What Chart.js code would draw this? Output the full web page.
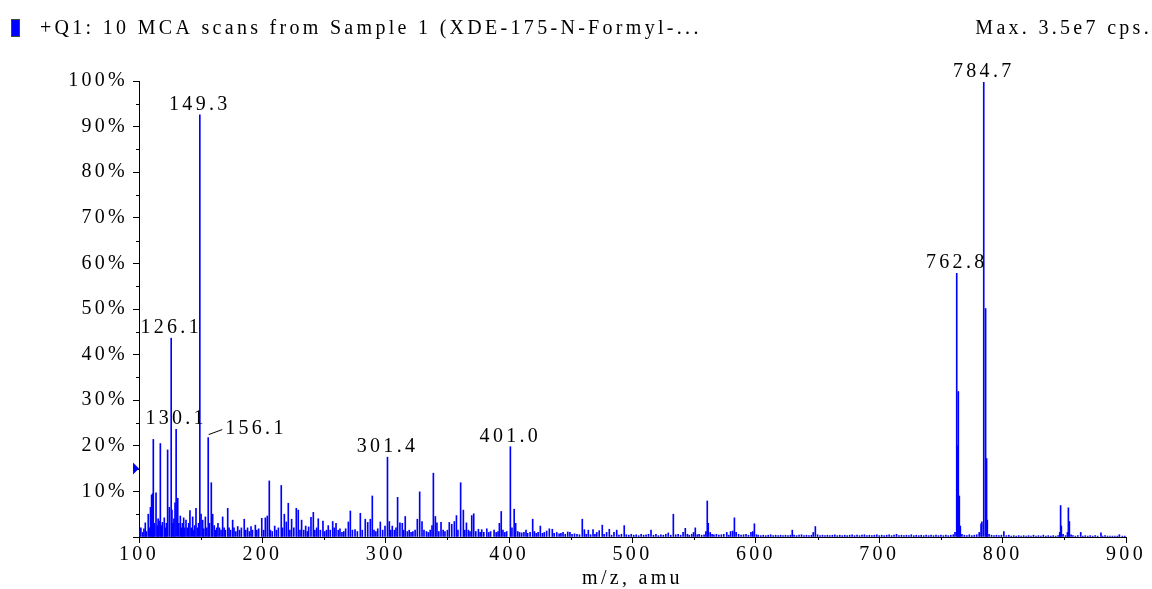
<!DOCTYPE html>
<html><head><meta charset="utf-8">
<script src="https://cdn.jsdelivr.net/npm/chart.js@4/dist/chart.umd.min.js"></script>
<style>html,body{margin:0;padding:0;background:#fff;}#wrap{width:1152px;height:589px;}</style>
</head><body><div id="wrap"><canvas id="c" width="1152" height="589"></canvas></div>
<script>
// ---- data (m/z, relative intensity %) ----
const mzValues = [
100.5,101.5,103.0,104.0,105.1,106.0,107.5,108.5,109.3,110.2,111.0,111.6,112.5,113.8,114.8,115.5,116.3,117.3,118.2,119.0,
120.5,121.3,122.2,123.2,124.6,126.1,126.7,127.5,128.3,129.2,130.1,131.4,132.3,133.5,134.5,135.2,136.2,137.0,138.1,139.2,
140.3,141.3,142.3,143.5,144.5,145.2,146.2,147.3,148.3,149.3,150.3,151.6,152.5,153.8,155.0,156.1,157.0,158.6,159.7,161.0,
162.0,163.0,164.0,165.2,166.5,167.8,169.0,170.0,171.9,173.0,174.2,175.9,177.0,178.5,180.0,181.5,183.0,185.3,186.5,188.0,
189.5,190.8,192.0,194.3,195.5,197.0,199.5,201.0,202.4,204.0,205.6,206.5,208.0,210.0,211.5,213.0,215.3,216.3,217.8,219.4,
221.0,222.3,223.7,225.5,227.5,229.1,230.5,231.8,233.5,235.1,236.5,237.5,239.4,241.3,242.5,244.0,245.3,247.0,249.1,250.5,
252.0,253.4,255.0,257.0,258.3,259.7,261.5,262.9,264.5,266.0,267.5,269.7,271.3,273.0,275.1,277.0,279.4,281.0,283.4,285.4,
287.5,289.1,290.5,292.0,293.5,295.6,297.5,299.4,301.4,302.9,304.0,305.3,307.0,308.3,309.6,311.5,313.4,314.5,315.8,317.5,
319.0,320.5,322.0,323.8,325.6,327.5,329.4,331.0,333.0,334.5,336.0,337.5,338.6,340.2,341.5,343.0,344.8,346.5,348.0,350.0,
351.5,353.5,355.6,357.3,358.5,360.7,362.9,364.0,365.4,367.0,368.3,369.7,371.3,373.0,375.1,376.5,377.8,379.5,381.9,383.5,
385.0,387.8,389.5,391.0,392.1,393.6,395.0,396.5,398.0,401.0,402.3,404.1,405.3,407.0,408.5,410.2,412.0,413.7,415.0,417.0,
419.1,420.5,422.0,423.5,425.3,427.0,428.5,430.4,432.6,435.0,436.5,438.6,440.5,442.0,443.7,445.5,447.5,449.3,451.0,453.0,
455.0,457.0,459.3,461.0,462.5,464.2,466.0,468.0,469.5,471.0,473.0,475.5,477.0,479.0,481.2,483.0,485.0,487.2,489.0,491.0,
493.3,495.0,497.0,499.0,501.0,503.0,505.0,507.0,509.0,511.0,513.0,515.0,517.0,519.0,521.0,523.0,525.0,527.0,529.0,531.0,
533.1,535.0,537.0,539.0,541.0,542.8,544.5,546.0,548.0,549.5,550.9,552.5,554.0,556.0,558.0,559.5,560.6,561.4,563.0,564.5,
566.0,568.0,570.0,572.0,574.0,576.4,578.0,579.5,581.2,582.6,584.0,586.0,588.0,590.0,592.0,594.0,596.0,597.5,598.8,600.5,
602.0,604.0,606.0,608.0,610.0,612.0,614.0,616.0,618.0,620.0,622.0,624.0,626.0,628.0,629.5,631.0,633.0,635.0,637.0,639.0,
641.0,643.0,645.0,646.5,648.2,650.0,652.0,654.0,656.0,658.0,660.0,662.0,664.0,666.0,668.0,670.0,672.0,674.0,676.0,678.0,
680.0,682.0,684.0,686.0,688.0,690.0,692.0,694.0,696.0,698.0,700.0,702.0,704.0,706.0,708.0,710.0,712.0,714.0,716.0,718.0,
720.0,722.0,724.0,726.0,728.0,730.0,732.0,734.0,736.0,738.0,740.0,742.0,744.0,746.0,748.0,750.0,752.0,754.0,756.0,758.0,
760.0,761.4,762.8,763.4,764.1,764.9,765.7,767.0,769.0,771.0,773.0,775.0,777.0,779.0,781.0,782.5,783.2,784.7,786.2,787.0,
787.6,789.0,791.0,793.0,795.0,797.0,799.0,801.0,803.0,805.0,807.0,809.0,811.0,813.0,815.0,817.0,819.0,821.0,823.0,825.0,
827.0,829.0,831.0,833.0,835.0,837.0,839.0,841.0,843.0,845.0,846.3,847.0,847.6,849.0,851.0,852.5,853.3,854.1,855.5,857.0,
859.0,861.0,863.3,865.0,867.0,869.0,871.0,873.0,875.0,877.0,879.7,881.0,883.0,885.0,887.0,889.0,891.0,893.0,894.6,897.0,
899.0
];
const intensities = [
1.5,2.0,1.0,1.8,3.1,1.2,5.0,2.0,6.5,9.2,9.5,21.4,3.0,9.7,2.5,4.0,3.5,20.5,2.5,3.2,
4.2,2.0,3.0,19.1,6.5,43.6,5.9,3.0,4.0,7.5,23.6,8.5,3.0,4.6,2.0,3.0,4.2,2.0,3.7,2.0,
3.0,5.8,2.0,4.4,1.5,2.5,6.3,2.0,3.0,92.6,5.0,3.7,1.8,4.4,2.0,21.8,3.0,11.9,5.0,2.5,
1.5,2.0,3.0,2.0,1.5,4.4,2.0,1.5,6.3,2.0,1.5,3.7,2.0,1.2,2.3,1.5,2.0,3.9,1.5,2.0,
1.2,2.3,1.5,2.6,1.5,1.8,4.1,1.5,4.2,4.6,12.3,1.5,1.2,2.4,1.5,2.0,11.3,2.0,5.0,3.3,
7.4,1.5,3.9,2.0,6.3,5.9,1.5,3.7,1.5,2.4,1.2,2.2,4.3,5.4,1.5,2.0,4.0,1.5,3.5,1.2,
1.5,2.5,1.5,3.4,2.0,3.0,1.5,1.8,1.0,1.2,1.8,3.3,5.7,1.5,1.6,1.2,5.2,1.5,3.9,3.2,
3.9,9.0,1.5,1.2,1.8,3.3,1.5,2.4,17.5,3.4,1.5,2.4,1.5,2.0,8.7,3.1,3.0,1.5,4.5,1.2,
1.5,1.0,1.2,1.5,3.9,9.9,3.4,1.5,1.2,1.0,1.5,2.5,14.0,4.5,3.1,1.2,3.2,1.5,1.2,1.5,
3.2,2.8,3.4,4.7,1.5,11.9,5.9,1.5,3.1,1.5,1.2,4.7,5.1,1.2,1.7,1.0,1.6,1.0,1.8,1.0,
1.2,1.5,1.0,1.2,3.0,5.6,1.5,1.0,1.2,19.8,2.0,6.1,3.0,1.2,1.0,0.9,1.0,1.5,0.8,1.0,
3.9,1.2,0.8,1.0,2.4,0.8,1.0,1.3,1.8,1.7,0.8,1.0,0.7,0.8,1.0,0.6,1.1,1.0,0.6,0.7,
0.6,0.5,3.9,1.6,0.6,1.5,0.5,1.6,0.6,1.0,1.4,2.6,0.6,1.0,1.7,0.4,1.0,1.5,0.4,0.6,
2.5,0.5,0.4,0.6,0.4,0.5,0.3,0.6,0.4,0.5,0.6,1.5,0.4,0.6,0.3,0.5,0.4,0.6,0.9,0.4,
5.0,0.5,0.6,0.4,1.0,1.9,0.6,0.4,0.6,1.0,2.0,0.5,0.6,0.4,0.5,1.2,7.9,3.0,1.0,0.6,
0.5,0.6,0.4,0.5,0.6,1.0,0.4,1.2,1.3,4.2,1.0,0.6,0.4,0.5,0.6,0.4,1.0,1.2,2.9,0.5,
0.4,0.3,0.4,0.3,0.4,0.5,0.3,0.4,0.3,0.4,0.3,0.4,0.3,0.4,1.5,0.4,0.3,0.4,0.5,0.3,
0.4,0.3,0.4,1.0,2.3,0.5,0.3,0.4,0.3,0.4,0.3,0.4,0.5,0.3,0.4,0.3,0.4,0.3,0.4,0.5,
0.3,0.4,0.3,0.4,0.5,0.3,0.4,0.3,0.4,0.5,0.3,0.4,0.3,0.4,0.5,0.3,0.4,0.6,0.3,0.4,
0.3,0.4,0.3,0.5,0.3,0.4,0.3,0.4,0.3,0.4,0.3,0.4,0.3,0.4,0.3,0.4,0.3,0.4,0.3,0.4,
0.5,1.0,57.8,20.0,31.9,9.0,2.4,0.6,0.4,0.3,0.5,0.3,0.4,0.5,1.0,2.9,3.3,99.7,50.1,17.2,
3.7,0.6,0.4,0.3,0.4,0.3,0.4,1.2,0.3,0.4,0.2,0.3,0.2,0.3,0.2,0.3,0.2,0.3,0.2,0.4,
0.2,0.3,0.2,0.4,0.2,0.3,0.2,0.3,0.2,0.3,1.0,6.9,2.4,0.6,0.3,1.0,6.4,3.4,0.5,0.3,
0.2,0.3,1.0,0.2,0.3,0.2,0.3,0.2,0.3,0.2,0.9,0.2,0.3,0.2,0.2,0.2,0.2,0.2,0.5,0.2,
0.2
];
const xTicks = [100,200,300,400,500,600,700,800,900];
const xMinorTicks = [150,250,350,450,550,650,750,850];
const yTicks = [0,10,20,30,40,50,60,70,80,90,100];
const yMinorTicks = [5,15,25,35,45,55,65,75,85,95];
const peakLabelText = ['126.1','130.1','149.3','156.1','301.4','401.0','762.8','784.7'];
const peakLabelMz = [126.1,130.1,149.3,156.1,301.4,401.0,762.8,784.7];
const peakLabelIntensity = [43.6,23.6,92.6,21.8,17.5,19.8,57.8,99.7];
const leaderLabel = '156.1';
const titleText = '+Q1: 10 MCA scans from Sample 1 (XDE-175-N-Formyl-...';
const maxText = 'Max. 3.5e7 cps.';
const xAxisTitle = 'm/z, amu';
const thresholdValue = 15;

// ---- styles ----
const FONT_FAMILY = '"Liberation Serif", "Times New Roman", serif';
const FONT_SIZE = 20;
const LS = '3.3px';
const BLUE = '#0000ff';

const decor = {
  id: 'decor',
  beforeInit(chart){ chart.ctx.letterSpacing = LS; },
  beforeDraw(chart){ chart.ctx.letterSpacing = LS; },
  afterDraw(chart){
    const ctx = chart.ctx, xs = chart.scales.x, ys = chart.scales.y;
    ctx.save();
    ctx.letterSpacing = LS;
    // minor ticks
    ctx.strokeStyle = '#000'; ctx.lineWidth = 1;
    ctx.beginPath();
    yMinorTicks.forEach(v => { const y = Math.round(ys.getPixelForValue(v)) + 0.5; ctx.moveTo(xs.left - 3, y); ctx.lineTo(xs.left, y); });
    xMinorTicks.forEach(v => { const x = Math.round(xs.getPixelForValue(v)) + 0.5; ctx.moveTo(x, ys.bottom); ctx.lineTo(x, ys.bottom + 3); });
    ctx.stroke();
    // threshold marker
    const ty = ys.getPixelForValue(thresholdValue);
    ctx.fillStyle = BLUE;
    ctx.beginPath(); ctx.moveTo(xs.left - 6, ty - 6); ctx.lineTo(xs.left, ty); ctx.lineTo(xs.left - 6, ty + 6); ctx.closePath(); ctx.fill();
    // peak labels
    ctx.fillStyle = '#000';
    ctx.font = FONT_SIZE + 'px ' + FONT_FAMILY;
    ctx.textBaseline = 'alphabetic';
    peakLabelText.forEach((t, i) => {
      const px = xs.getPixelForValue(peakLabelMz[i]);
      const py = ys.getPixelForValue(peakLabelIntensity[i]);
      if (t === leaderLabel) {
        ctx.beginPath(); ctx.moveTo(px + 0.5, py - 3); ctx.lineTo(px + 14, py - 8); ctx.stroke();
        ctx.textAlign = 'left';
        ctx.fillText(t, px + 17, py - 4);
      } else {
        ctx.textAlign = 'center';
        ctx.fillText(t, px, py - 5);
      }
    });
    // header
    ctx.fillStyle = BLUE; ctx.fillRect(11, 19, 9, 18);
    ctx.strokeStyle = '#444'; ctx.strokeRect(11.5, 19.5, 8, 17);
    ctx.fillStyle = '#000';
    ctx.textAlign = 'left';
    ctx.fillText(titleText, 40, 34);
    ctx.textAlign = 'right';
    ctx.fillText(maxText, 1152, 34);
    ctx.restore();
  }
};

new Chart(document.getElementById('c'), {
  type: 'bar',
  data: { datasets: [{
    data: mzValues.map((x, i) => ({ x: x, y: intensities[i] })),
    backgroundColor: BLUE, borderWidth: 0, barThickness: 1
  }]},
  options: {
    responsive: false, animation: false, devicePixelRatio: 1,
    layout: { padding: { top: 81, right: 26, left: 0, bottom: 0 } },
    plugins: { legend: { display: false }, tooltip: { enabled: false }, title: { display: false } },
    scales: {
      x: {
        type: 'linear', min: 100, max: 900, offset: false,
        afterBuildTicks: s => { s.ticks = xTicks.map(v => ({ value: v })); },
        grid: { offset: false, drawOnChartArea: false, drawTicks: true, tickLength: 6, color: '#000' },
        border: { color: '#000', width: 1 },
        ticks: { color: '#000', font: { family: FONT_FAMILY, size: FONT_SIZE }, padding: 0, maxRotation: 0, autoSkip: false },
        title: { display: true, text: xAxisTitle, color: '#000', font: { family: FONT_FAMILY, size: FONT_SIZE, lineHeight: 1 }, padding: { top: 0, bottom: 0 } },
        afterFit: s => { s.height = 52; }
      },
      y: {
        min: 0, max: 100,
        afterBuildTicks: s => { s.ticks = yTicks.map(v => ({ value: v })); },
        grid: { drawOnChartArea: false, tickLength: 6, color: '#000' },
        border: { color: '#000', width: 1 },
        ticks: { color: '#000', font: { family: FONT_FAMILY, size: FONT_SIZE }, padding: 5, autoSkip: false,
          callback: v => v === 0 ? '' : v + '%' },
        afterFit: s => { s.width = 139; }
      }
    }
  },
  plugins: [decor]
});
</script></body></html>
